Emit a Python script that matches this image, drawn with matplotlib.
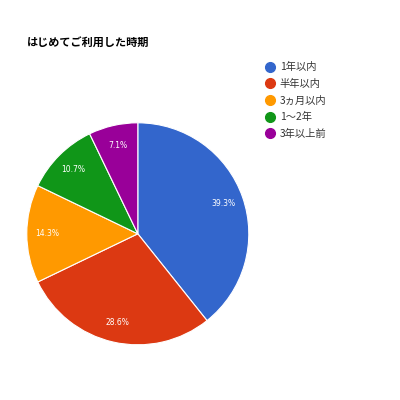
import matplotlib
matplotlib.use('Agg')
import matplotlib.pyplot as plt
from matplotlib.lines import Line2D

plt.rcParams['font.family'] = ['Noto Sans CJK JP', 'DejaVu Sans']

labels = ['1年以内', '半年以内', '3ヵ月以内', '1〜2年', '3年以上前']
values = [11, 8, 4, 3, 2]
colors = ['#3366cc', '#dc3912', '#ff9900', '#109618', '#990099']
title = 'はじめてご利用した時期'

fig = plt.figure(figsize=(4, 4), dpi=100)
ax = fig.add_axes([0.067, 0.138, 0.555, 0.555])

wedges, texts, autotexts = ax.pie(values, colors=colors, startangle=90, counterclock=False,
                                  autopct='%.1f%%', pctdistance=0.82,
                                  wedgeprops=dict(edgecolor='white', linewidth=0.8),
                                  textprops=dict(color='white', fontsize=5.5, family='DejaVu Sans'))
ax.set_xlim(-1, 1)
ax.set_ylim(-1, 1)
ax.set_aspect('equal')

fig.text(0.068, 0.895, title, fontsize=8, fontweight='bold', color='black', va='center')

handles = [Line2D([], [], marker='o', linestyle='none', markersize=7,
                  markerfacecolor=c, markeredgecolor=c) for c in colors]
leg = fig.legend(handles, labels, loc='upper left', bbox_to_anchor=(0.652, 0.855),
                 frameon=False, fontsize=7.4, labelspacing=0.64, handletextpad=0.45,
                 handlelength=1.0, borderaxespad=0)
for t in leg.get_texts():
    t.set_color('#333333')

fig.savefig('out.png', dpi=100, facecolor='white')
